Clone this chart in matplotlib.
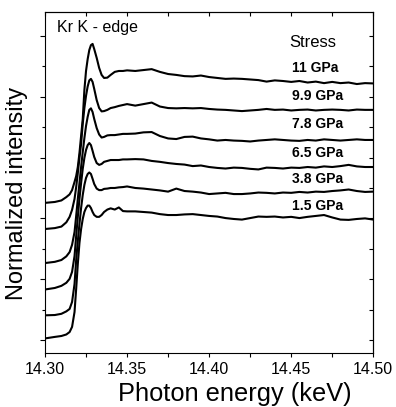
import matplotlib
matplotlib.use('Agg')
import matplotlib.pyplot as plt
from matplotlib.ticker import MultipleLocator, NullFormatter, FormatStrFormatter

plt.rcParams['font.family'] = ['Liberation Sans', 'DejaVu Sans']

# Photon energy grid (keV)
energy = [14.300, 14.306, 14.310, 14.313, 14.315, 14.3165, 14.318, 14.319, 14.320, 14.321,
          14.322, 14.323, 14.324, 14.325, 14.326, 14.327, 14.328, 14.329, 14.330, 14.3315,
          14.333, 14.3345, 14.336, 14.338, 14.340, 14.3425, 14.345, 14.3475,
          14.350, 14.355, 14.360, 14.365, 14.370, 14.375, 14.380, 14.385, 14.390, 14.395,
          14.400, 14.405, 14.410, 14.415, 14.420, 14.425, 14.430, 14.435, 14.440, 14.445,
          14.450, 14.455, 14.460, 14.465, 14.470, 14.475, 14.480, 14.485, 14.490, 14.495, 14.500]

stress_labels = ['11 GPa', '9.9 GPa', '7.8 GPa', '6.5 GPa', '3.8 GPa', '1.5 GPa']

# Normalized intensity (offset for clarity), one list per stress
int_11 = [4.51, 4.54, 4.59, 4.70, 4.79, 4.93, 5.20, 5.39, 5.69, 6.15, 6.71, 7.27, 8.22, 8.85,
          9.24, 9.54, 9.70, 9.74, 9.57, 9.28, 8.95, 8.72, 8.62, 8.63, 8.72, 8.82, 8.85, 8.85,
          8.87, 8.85, 8.88, 8.91, 8.82, 8.75, 8.72, 8.68, 8.67, 8.70, 8.65, 8.62, 8.59, 8.60,
          8.59, 8.57, 8.55, 8.50, 8.54, 8.52, 8.49, 8.52, 8.47, 8.50, 8.45, 8.49, 8.45, 8.47,
          8.42, 8.45, 8.44]
int_9_9 = [3.65, 3.68, 3.73, 3.87, 4.05, 4.28, 4.64, 5.03, 5.49, 5.99, 6.45, 7.11, 7.63, 8.03,
           8.34, 8.54, 8.59, 8.49, 8.26, 7.89, 7.63, 7.52, 7.53, 7.57, 7.63, 7.66, 7.70, 7.73,
           7.76, 7.71, 7.76, 7.81, 7.68, 7.63, 7.62, 7.63, 7.62, 7.63, 7.60, 7.58, 7.57, 7.55,
           7.53, 7.55, 7.57, 7.60, 7.57, 7.58, 7.55, 7.57, 7.58, 7.55, 7.57, 7.58, 7.57, 7.55,
           7.58, 7.57, 7.57]
int_7_8 = [2.53, 2.57, 2.63, 2.75, 2.89, 3.13, 3.55, 4.08, 4.64, 5.16, 5.69, 6.18, 6.64, 7.04,
           7.34, 7.57, 7.62, 7.50, 7.27, 6.97, 6.76, 6.66, 6.68, 6.73, 6.74, 6.74, 6.76, 6.78,
           6.78, 6.79, 6.83, 6.84, 6.71, 6.63, 6.61, 6.68, 6.69, 6.63, 6.60, 6.56, 6.58, 6.56,
           6.55, 6.53, 6.56, 6.58, 6.60, 6.58, 6.56, 6.55, 6.58, 6.56, 6.60, 6.58, 6.56, 6.58,
           6.60, 6.58, 6.58]
int_6_5 = [1.66, 1.71, 1.78, 1.88, 2.01, 2.24, 2.76, 3.42, 4.05, 4.64, 5.16, 5.63, 5.99, 6.25,
           6.41, 6.48, 6.41, 6.22, 6.02, 5.82, 5.76, 5.79, 5.86, 5.89, 5.92, 5.92, 5.92, 5.94,
           5.94, 5.95, 5.94, 5.89, 5.86, 5.82, 5.79, 5.77, 5.72, 5.74, 5.69, 5.66, 5.64, 5.67,
           5.66, 5.63, 5.61, 5.67, 5.66, 5.64, 5.67, 5.66, 5.69, 5.67, 5.71, 5.69, 5.72, 5.76,
           5.71, 5.69, 5.69]
int_3_8 = [0.81, 0.82, 0.86, 0.94, 1.02, 1.25, 1.84, 2.63, 3.26, 3.82, 4.34, 4.77, 5.10, 5.33,
           5.46, 5.51, 5.46, 5.30, 5.13, 4.98, 4.93, 4.93, 4.97, 4.98, 5.00, 5.00, 5.02, 5.03,
           5.05, 5.00, 4.98, 4.95, 4.92, 4.88, 4.98, 4.90, 4.88, 4.85, 4.80, 4.82, 4.84, 4.80,
           4.80, 4.82, 4.85, 4.84, 4.82, 4.85, 4.84, 4.87, 4.85, 4.88, 4.87, 4.90, 4.92, 4.95,
           4.90, 4.87, 4.88]
int_1_5 = [0.05, 0.10, 0.13, 0.18, 0.26, 0.43, 0.92, 1.68, 2.50, 3.19, 3.65, 3.98, 4.21, 4.34,
           4.42, 4.42, 4.34, 4.21, 4.11, 4.05, 4.05, 4.11, 4.21, 4.29, 4.33, 4.29, 4.36, 4.24,
           4.23, 4.23, 4.21, 4.19, 4.14, 4.11, 4.11, 4.13, 4.14, 4.11, 4.08, 4.06, 4.01, 3.98,
           3.96, 4.01, 4.06, 4.05, 4.06, 4.03, 4.05, 4.01, 4.05, 4.08, 4.11, 4.03, 3.96, 3.95,
           3.98, 4.00, 3.96]

spectra = [int_11, int_9_9, int_7_8, int_6_5, int_3_8, int_1_5]
label_y = [8.80, 7.89, 6.97, 6.02, 5.16, 4.28]

fig = plt.figure(figsize=(3.96, 4.07), dpi=100)
ax = fig.add_axes([0.1136, 0.1319, 0.8290, 0.8386])

for s in spectra:
    ax.plot(energy, s, color='black', lw=1.5, solid_joinstyle='round')

ax.set_xlim(14.30, 14.50)
ax.set_ylim(-0.44, 10.79)

ax.xaxis.set_major_locator(MultipleLocator(0.05))
ax.xaxis.set_minor_locator(MultipleLocator(0.025))
ax.xaxis.set_major_formatter(FormatStrFormatter('%.2f'))
ax.yaxis.set_major_locator(MultipleLocator(2))
ax.yaxis.set_minor_locator(MultipleLocator(1))
ax.yaxis.set_major_formatter(NullFormatter())

ax.tick_params(axis='x', which='both', direction='out', length=3, width=0.8,
               top=False, labelsize=11.5, pad=3)
ax.tick_params(axis='y', which='major', direction='out', length=3.7, width=0.8, right=False)
ax.tick_params(axis='y', which='minor', direction='out', length=2.0, width=0.8, right=False)
for sp in ax.spines.values():
    sp.set_linewidth(0.8)

secx = ax.secondary_xaxis('top')
secx.xaxis.set_major_locator(MultipleLocator(0.05))
secx.xaxis.set_minor_locator(MultipleLocator(0.025))
secx.tick_params(which='both', direction='in', length=3, width=0.8, labeltop=False)
secx.spines['top'].set_linewidth(0.8)

secy = ax.secondary_yaxis('right')
secy.yaxis.set_major_locator(MultipleLocator(2))
secy.yaxis.set_minor_locator(MultipleLocator(1))
secy.tick_params(which='both', direction='in', length=3.2, width=0.8, labelright=False)
secy.spines['right'].set_linewidth(0.8)

ax.set_xlabel('Photon energy (keV)', fontsize=18.3, labelpad=4)
ax.xaxis.set_label_coords(0.579, -0.085, transform=ax.transAxes)
ax.xaxis.label.set_va('top')
ax.set_ylabel('Normalized intensity', fontsize=17)
ax.yaxis.set_label_coords(-0.052, 0.467, transform=ax.transAxes)

ax.text(0.0366, 0.941, 'Kr K - edge', transform=ax.transAxes, fontsize=11.5, va='baseline')
ax.text(14.449, 9.65, 'Stress', fontsize=12, va='baseline')
for lab, y in zip(stress_labels, label_y):
    ax.text(14.4505, y, lab, fontsize=10, fontweight='bold', va='baseline')

fig.savefig('out.png', dpi=100)
